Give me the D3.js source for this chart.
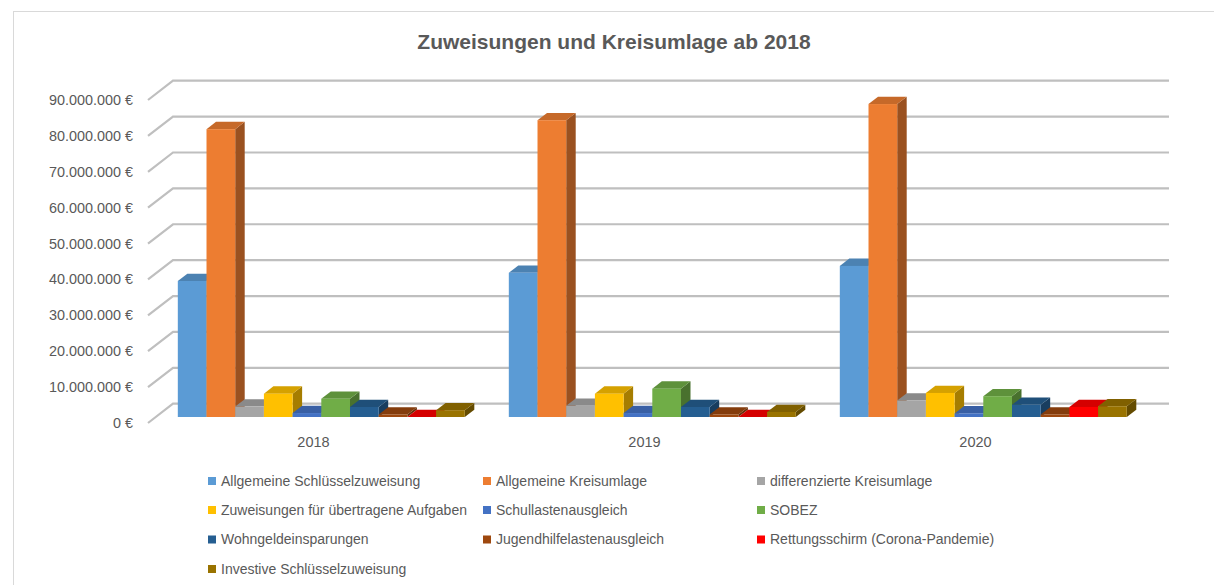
<!DOCTYPE html>
<html>
<head>
<meta charset="utf-8">
<script src="https://cdn.jsdelivr.net/npm/d3@7"></script>
<style>
  body { margin: 0; background: #fff; }
  text { font-family: "Liberation Sans", Arial, sans-serif; fill: #595959; }
</style>
</head>
<body>
<svg id="chart" width="1214" height="585"></svg>
<script>
// data
var years = ["2018", "2019", "2020"];
var seriesNames = [
  "Allgemeine Schlüsselzuweisung",
  "Allgemeine Kreisumlage",
  "differenzierte Kreisumlage",
  "Zuweisungen für übertragene Aufgaben",
  "Schullastenausgleich",
  "SOBEZ",
  "Wohngeldeinsparungen",
  "Jugendhilfelastenausgleich",
  "Rettungsschirm (Corona-Pandemie)",
  "Investive Schlüsselzuweisung"
];
var seriesColors = ["#5B9BD5", "#ED7D31", "#A5A5A5", "#FFC000", "#4472C4",
                    "#70AD47", "#255E91", "#9E480E", "#FF0000", "#997300"];
// one array per year, same order as seriesNames
var values2018 = [37900000, 80200000, 2900000, 6500000, 1100000, 5100000, 2800000, 700000, 0, 1900000];
var values2019 = [40200000, 82700000, 3100000, 6500000, 1100000, 7900000, 2800000, 700000, 0, 1400000];
var values2020 = [42100000, 87200000, 4600000, 6700000, 1000000, 5800000, 3400000, 700000, 2800000, 3000000];
var yTicks = [0, 10000000, 20000000, 30000000, 40000000, 50000000, 60000000, 70000000, 80000000, 90000000];

var valuesByYear = { "2018": values2018, "2019": values2019, "2020": values2020 };

var svg = d3.select("#chart");

// chart frame
svg.append("rect")
  .attr("x", 13.5).attr("y", 11.5)
  .attr("width", 1300).attr("height", 700)
  .attr("fill", "none")
  .attr("stroke", "#d9d9d9");

svg.append("text")
  .attr("x", 614).attr("y", 49)
  .attr("text-anchor", "middle")
  .style("font-size", "21px")
  .style("font-weight", "bold")
  .text("Zuweisungen und Kreisumlage ab 2018");

// front plane scales
var x = d3.scaleBand().domain(years).range([148, 1141]);
var y = d3.scaleLinear().domain([0, 90000000]).range([423, 100]);
var xs = d3.scaleBand().domain(seriesNames)
  .range([x.bandwidth() * 0.0665, x.bandwidth() * 0.9335]);
var color = d3.scaleOrdinal().domain(seriesNames).range(seriesColors);

// 3d offsets
var wallDx = 25, wallDy = -19.3;   // front -> back wall
var barDx = 7.8, barDy = -6;       // front -> bar front face
var depthDx = 9.5, depthDy = -7.3; // bar depth

var de = d3.formatLocale({ decimal: ",", thousands: ".", grouping: [3], currency: ["", " €"] });
var fmt = de.format("$,.0f");

// gridlines: slanted side + back wall
var grid = svg.append("g").attr("class", "grid");
grid.selectAll("path")
  .data(yTicks)
  .enter()
  .append("path")
  .attr("d", function(d) {
    return "M148," + y(d) + "L" + (148 + wallDx) + "," + (y(d) + wallDy) + "L1169," + (y(d) + wallDy);
  })
  .attr("fill", "none")
  .attr("stroke", "#bfbfbf")
  .attr("stroke-width", 2.2);

svg.append("g")
  .selectAll("text")
  .data(yTicks)
  .enter()
  .append("text")
  .attr("x", 133)
  .attr("y", function(d) { return y(d); })
  .attr("dy", "0.35em")
  .attr("text-anchor", "end")
  .style("font-size", "14.4px")
  .text(function(d) { return fmt(d); });

// bars
var bars = svg.append("g").attr("class", "bars");
years.forEach(function(yr) {
  valuesByYear[yr].forEach(function(v, i) {
    var name = seriesNames[i];
    var c = d3.color(color(name));
    var x0 = x(yr) + xs(name) + barDx;
    var w = xs.bandwidth();
    var yb = y(0) + barDy;
    var yt = y(v) + barDy;
    var g = bars.append("g");
    // side face
    g.append("path")
      .attr("d", "M" + (x0 + w) + "," + yb + "L" + (x0 + w + depthDx) + "," + (yb + depthDy) +
        "L" + (x0 + w + depthDx) + "," + (yt + depthDy) + "L" + (x0 + w) + "," + yt + "Z")
      .attr("fill", c.darker(1.2));
    // top face
    g.append("path")
      .attr("d", "M" + x0 + "," + yt + "L" + (x0 + depthDx) + "," + (yt + depthDy) +
        "L" + (x0 + w + depthDx) + "," + (yt + depthDy) + "L" + (x0 + w) + "," + yt + "Z")
      .attr("fill", c.darker(0.5));
    // front face
    g.append("rect")
      .attr("x", x0).attr("y", yt)
      .attr("width", w).attr("height", yb - yt)
      .attr("fill", c);
  });
});

// category labels
svg.append("g")
  .selectAll("text")
  .data(years)
  .enter()
  .append("text")
  .attr("x", function(d) { return x(d) + x.bandwidth() / 2; })
  .attr("y", 442)
  .attr("dy", "0.35em")
  .attr("text-anchor", "middle")
  .style("font-size", "14.5px")
  .text(function(d) { return d; });

// legend: 3 columns
var legendX = [208, 483, 757];
var legendY = [481, 510, 539.5, 569];
var legend = svg.append("g").attr("class", "legend");
legend.selectAll("g")
  .data(seriesNames)
  .enter()
  .append("g")
  .each(function(d, i) {
    var g = d3.select(this);
    var lx = legendX[i % 3], ly = legendY[Math.floor(i / 3)];
    g.append("rect")
      .attr("x", lx).attr("y", ly - 4)
      .attr("width", 8).attr("height", 8)
      .attr("fill", color(d));
    g.append("text")
      .attr("x", lx + 13)
      .attr("y", ly)
      .attr("dy", "0.35em")
      .style("font-size", "14px")
      .text(d);
  });
</script>
</body>
</html>
